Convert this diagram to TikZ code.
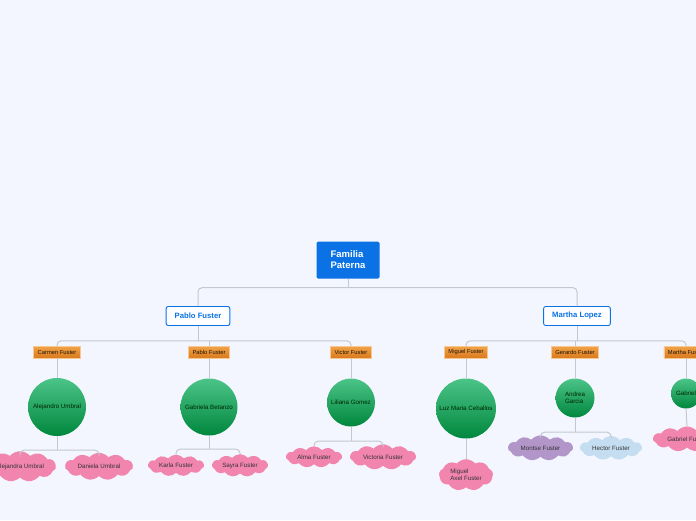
\documentclass[tikz,border=0pt]{standalone}
\usepackage{fontspec}
\setmainfont{Liberation Sans}
\usetikzlibrary{shapes.symbols}
\definecolor{bgblue}{HTML}{F3F6FE}
\definecolor{rootblue}{HTML}{0A72E4}
\definecolor{linegray}{HTML}{C3C8D0}
\definecolor{orangetop}{HTML}{F2A347}
\definecolor{orangebot}{HTML}{DA7A1E}
\definecolor{greentop}{HTML}{4CC488}
\definecolor{greenbot}{HTML}{00873D}
\definecolor{cloudpink}{HTML}{F285AE}
\definecolor{cloudlilac}{HTML}{B396C9}
\definecolor{cloudsky}{HTML}{C4DDF1}

\begin{document}
\begin{tikzpicture}[x=1pt,y=-1pt,font=\fontsize{6.2}{7.2}\selectfont,
  rootbox/.style={fill=rootblue,text=white,font=\fontsize{9.5}{11}\selectfont\bfseries,align=left,
    rounded corners=1.5pt,minimum width=63pt,minimum height=37pt,inner sep=2pt},
  parentbox/.style={draw=rootblue,line width=0.9pt,fill=white,text=rootblue,
    font=\fontsize{7.7}{9}\selectfont\bfseries,rounded corners=2pt,minimum height=19pt,inner xsep=8.5pt},
  childbox/.style={draw=orangetop!60!white,line width=0.4pt,top color=orangetop,bottom color=orangebot,
    text=black!85!brown,font=\fontsize{5.8}{6}\selectfont,minimum height=11.5pt,inner xsep=4pt,inner ysep=0pt},
  spouse/.style={circle,top color=greentop,bottom color=greenbot,text=black!85!green,
    align=left,inner sep=0pt},
  grandkid/.style={cloud,cloud puffs=11,cloud puff arc=100,aspect=3,fill=cloudpink,
    text=black!80,inner sep=0pt,align=left},
  conn/.style={draw=linegray,line width=1pt,rounded corners=4pt}]
  \useasboundingbox (0,0) rectangle (696,520);
  \fill[bgblue] (0,0) rectangle (696,520);
  \clip (0,0) rectangle (696,520);

  % root and the two parents
  \node[rootbox] (root) at (348,260) {Familia\\Paterna};
  \node[parentbox] (pablo) at (198,316) {Pablo Fuster};
  \node[parentbox] (martha) at (577,316) {Martha Lopez};

  % children
  \node[childbox] (carmen) at (57,352) {Carmen Fuster};
  \node[childbox] (pabloj) at (209,352) {Pablo Fuster};
  \node[childbox] (victor) at (351,352) {Victor Fuster};
  \node[childbox] (miguel) at (466,352) {Miguel Fuster};
  \node[childbox] (gerardo) at (575,352) {Gerardo Fuster};
  \node[childbox] (marthaf) at (686,352) {Martha Fuster};

  % spouses
  \node[spouse,minimum size=58pt] (alejandro) at (57,407) {Alejandro Umbral};
  \node[spouse,minimum size=57pt] (gabriela) at (209,407) {Gabriela Betanzo};
  \node[spouse,minimum size=48pt] (liliana) at (351,402.5) {Liliana Gomez};
  \node[spouse,minimum size=60pt] (luz) at (466,408.5) {Luz Maria Ceballos};
  \node[spouse,minimum size=39pt] (andrea) at (575,398) {Andrea\\Garcia};
  \node[spouse,minimum size=30pt] (gabriel) at (686,393.5) {Gabriel};

  % grandchildren
  \node[grandkid,minimum width=72pt,minimum height=20pt] (alejandra) at (20,466.5) {Alejandra Umbral};
  \node[grandkid,minimum width=68pt,minimum height=20pt] (daniela) at (99,466.5) {Daniela Umbral};
  \node[grandkid,minimum width=56pt,minimum height=20pt] (karla) at (176,465.5) {Karla Fuster};
  \node[grandkid,minimum width=56pt,minimum height=20pt] (sayra) at (240,465.5) {Sayra Fuster};
  \node[grandkid,minimum width=56pt,minimum height=19pt] (alma) at (314,457) {Alma Fuster};
  \node[grandkid,minimum width=66pt,minimum height=19pt] (victoria) at (383,457) {Victoria Fuster};
  \node[grandkid,minimum width=54pt,minimum height=31pt,aspect=1.7,cloud puffs=9] (migaxel) at (466,475) {Miguel\\Axel Fuster};
  \node[grandkid,fill=cloudlilac,minimum width=65pt,minimum height=19pt] (montse) at (540.5,448) {Montse Fuster};
  \node[grandkid,fill=cloudsky,minimum width=62pt,minimum height=19pt] (hector) at (611,448) {Hector Fuster};
  \node[grandkid,minimum width=68pt,minimum height=19pt] (gabrielf) at (687,439) {Gabriel Fuster};

  % connectors
  \draw[conn] (root.south) -- ++(0,9) coordinate (rootbus);
  \draw[conn] (pablo.north) |- (rootbus) -| (martha.north);

  \draw[conn] (pablo.south) -- ++(0,15) coordinate (pbus);
  \draw[conn] (carmen.north) |- (pbus) -| (victor.north);
  \draw[conn] (pabloj.north) -- (pabloj.north |- pbus);
  \draw[conn] (martha.south) -- ++(0,15) coordinate (mbus);
  \draw[conn] (miguel.north) |- (mbus) -| (marthaf.north);
  \draw[conn] (gerardo.north) -- (gerardo.north |- mbus);

  \draw[conn] (carmen.south) -- (alejandro.north);
  \draw[conn] (pabloj.south) -- (gabriela.north);
  \draw[conn] (victor.south) -- (liliana.north);
  \draw[conn] (miguel.south) -- (luz.north);
  \draw[conn] (gerardo.south) -- (andrea.north);
  \draw[conn] (marthaf.south) -- (gabriel.north);

  \draw[conn] (alejandro.south) -- ++(0,14) coordinate (abus);
  \draw[conn] (alejandra.north) |- (abus) -| (daniela.north);
  \draw[conn] (gabriela.south) -- ++(0,13.5) coordinate (gbus);
  \draw[conn] (karla.north) |- (gbus) -| (sayra.north);
  \draw[conn] (liliana.south) -- ++(0,14.5) coordinate (lbus);
  \draw[conn] (alma.north) |- (lbus) -| (victoria.north);
  \draw[conn] (andrea.south) -- ++(0,14.5) coordinate (anbus);
  \draw[conn] (montse.north) |- (anbus) -| (hector.north);
  \draw[conn] (luz.south) -- (migaxel.north);
  \draw[conn] (gabriel.south) -- (gabrielf.north);
\end{tikzpicture}
\end{document}
